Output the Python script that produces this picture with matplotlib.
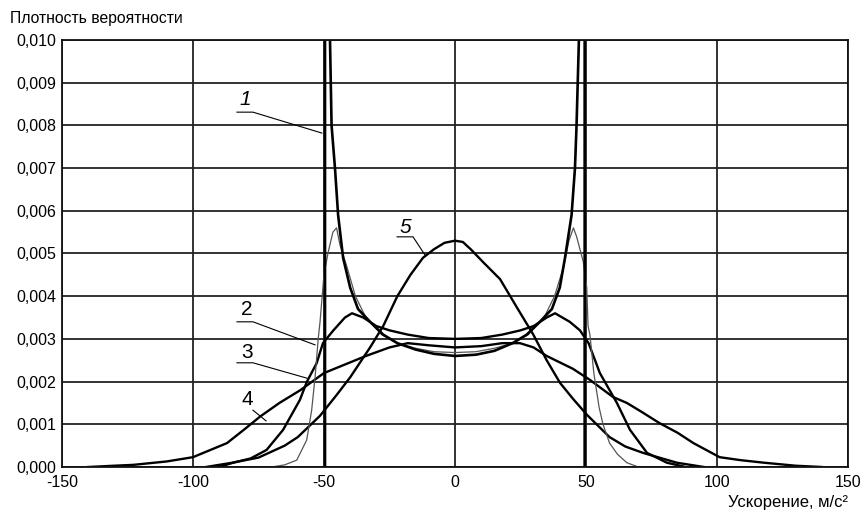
import matplotlib
matplotlib.use('Agg')
import matplotlib.pyplot as plt

plt.rcParams['font.family'] = ['Liberation Sans', 'DejaVu Sans']

# кривая 1 (толстая, уходит вверх у ±50)
x1 = [-49.6, -49.6, -47.9, -47.7, -47.1, -45.8, -44.6, -42.7, -40.0, -37.0, -32.4, -27.4, -22.0, -15.0, -8.0, 0.0,
      8.0, 15.0, 22.0, 27.4, 32.4, 37.0, 40.0, 42.0, 44.5, 45.8, 46.4, 47.3, 47.5, 49.5, 49.5]
y1 = [0.0, 0.012, 0.012, 0.0100, 0.0080, 0.0070, 0.0059, 0.0049, 0.0042, 0.0037, 0.0034, 0.0031, 0.0029, 0.00275, 0.00265, 0.0026,
      0.00263, 0.00272, 0.0029, 0.0031, 0.0034, 0.0037, 0.0042, 0.0049, 0.0059, 0.0070, 0.0080, 0.0100, 0.012, 0.012, 0.0]

# кривая 2 (тонкая)
x2 = [-70, -65, -60.4, -56.6, -54.7, -53.4, -52.2, -51.5, -50.0, -48.5, -46.6, -45.2, -43.9, -41.3, -38, -34, -28, -22,
      -15, -8, 0, 8, 15, 22, 28, 34, 38, 41.5, 43.5, 45.2, 46.4, 47.7, 49.0, 50.3, 50.8, 51.5, 53.0, 55.0, 56.5, 59.0,
      62.0, 65.6, 70]
y2 = [0, 0.00005, 0.00016, 0.00063, 0.00133, 0.0021, 0.0030, 0.0034, 0.0045, 0.0050, 0.0055, 0.0056, 0.0052, 0.0047,
      0.0040, 0.0035, 0.0031, 0.0029, 0.00278, 0.0027, 0.00268, 0.0027, 0.00278, 0.0029, 0.0031, 0.0035, 0.0040, 0.0047,
      0.0053, 0.0056, 0.0054, 0.0051, 0.0048, 0.0042, 0.0033, 0.0031, 0.0022, 0.0014, 0.0010, 0.00056, 0.0003, 0.0001, 0]

# кривая 3
x3 = [-90, -84.7, -78, -71.9, -65.6, -59.2, -56.5, -52.8, -50.4, -46.4, -42, -39.3, -35, -30, -25, -18, -10, 0,
      10, 18, 25, 30, 35, 38.2, 43.8, 47.7, 51, 55.3, 61.8, 66.8, 73.3, 80.9, 88]
y3 = [0, 0.0001, 0.0002, 0.0004, 0.00087, 0.00157, 0.0020, 0.00243, 0.0029, 0.0032, 0.0035, 0.0036, 0.0035, 0.0033,
      0.0032, 0.0031, 0.00302, 0.0030, 0.00302, 0.0031, 0.0032, 0.0033, 0.0035, 0.0036, 0.0034, 0.0032, 0.0029,
      0.0022, 0.0015, 0.00087, 0.00033, 0.0001, 0]

# кривая 4 (самая широкая)
x4 = [-140, -130, -122.8, -110, -100, -87, -80, -74.4, -67, -59, -50, -42, -34, -25, -18, -10, 0, 10, 18, 24.8, 30,
      35, 40, 45, 51.5, 60.3, 65.6, 71, 78, 85, 91, 101, 109, 118, 130, 140]
y4 = [0, 0.00003, 0.00005, 0.00013, 0.00023, 0.00056, 0.0009, 0.00118, 0.0015, 0.0018, 0.0022, 0.0024, 0.0026, 0.0028,
      0.0029, 0.00285, 0.0028, 0.00283, 0.0029, 0.0029, 0.0028, 0.0026, 0.00245, 0.0023, 0.00204, 0.00164, 0.0015,
      0.0013, 0.00103, 0.0008, 0.00056, 0.00023, 0.00016, 0.0001, 0.00003, 0]

# кривая 5 (колокол)
x5 = [-95, -85, -75, -65, -60, -51.5, -45, -40, -32.4, -27.4, -22, -17, -12.2, -8, -4, 0, 3, 6, 10.7, 17.2, 23.5,
      29.9, 35, 40.1, 45, 50.4, 59, 65, 71.8, 84.7, 95]
y5 = [0, 0.0001, 0.00022, 0.0005, 0.0007, 0.0012, 0.0017, 0.0021, 0.0028, 0.0033, 0.0040, 0.0045, 0.0049, 0.0051,
      0.00525, 0.0053, 0.00527, 0.0051, 0.0048, 0.0044, 0.00375, 0.0031, 0.0025, 0.00197, 0.0016, 0.00122, 0.0007,
      0.00048, 0.00033, 0.0001, 0]

xticks = [-150, -100, -50, 0, 50, 100, 150]
yticks = [i / 1000 for i in range(11)]
ytick_labels = ['0,%03d' % i for i in range(11)]

fig = plt.figure(figsize=(8.63, 5.12), dpi=100)
ax = fig.add_axes([0.0718, 0.0879, 0.9108, 0.834])

ax.set_xlim(-150, 150)
ax.set_ylim(0, 0.010)
ax.set_xticks(xticks)
ax.set_xticklabels([str(t) for t in xticks])
ax.set_yticks(yticks)
ax.set_yticklabels(ytick_labels)
ax.tick_params(length=0, labelsize=11.5)
ax.tick_params(axis='x', pad=6)
ax.tick_params(axis='y', pad=4)
ax.grid(True, color='#222222', lw=1.3)
ax.set_axisbelow(True)
for s in ax.spines.values():
    s.set_color('#111111')
    s.set_linewidth(1.3)

ax.plot(x4, y4, color='black', lw=1.7)
ax.plot(x3, y3, color='black', lw=1.7)
ax.plot(x5, y5, color='black', lw=1.7)
ax.plot(x2, y2, color='#555555', lw=0.9)
ax.plot(x1, y1, color='black', lw=1.9)

# подписи кривых с выносками
ax.text(-80.2, 0.0086, '1', fontsize=15, style='italic', ha='center', va='center')
ax.plot([-83.2, -77.1, -50.8], [0.00831, 0.00831, 0.00782], color='black', lw=0.8)
ax.text(-19.1, 0.00562, '5', fontsize=15, style='italic', ha='center', va='center')
ax.plot([-22.1, -16.0, -11.5], [0.00539, 0.00539, 0.00497], color='black', lw=0.8)
ax.text(-79.4, 0.00368, '2', fontsize=15, ha='center', va='center')
ax.plot([-83.2, -77.1, -53.4], [0.0034, 0.0034, 0.00286], color='black', lw=0.8)
ax.text(-79.4, 0.00269, '3', fontsize=15, ha='center', va='center')
ax.plot([-83.2, -77.1, -56.5], [0.00244, 0.00244, 0.00208], color='black', lw=0.8)
ax.text(-79.4, 0.00157, '4', fontsize=15, ha='center', va='center')
ax.plot([-77.1, -72.1], [0.00133, 0.00108], color='black', lw=0.8)

fig.text(10 / 863, 1 - 18 / 512, 'Плотность вероятности', fontsize=11.3, ha='left', va='center')
fig.text(848 / 863, 1 - 503 / 512, 'Ускорение, м/с²', fontsize=12, ha='right', va='center')

fig.savefig('out.png', dpi=100)
